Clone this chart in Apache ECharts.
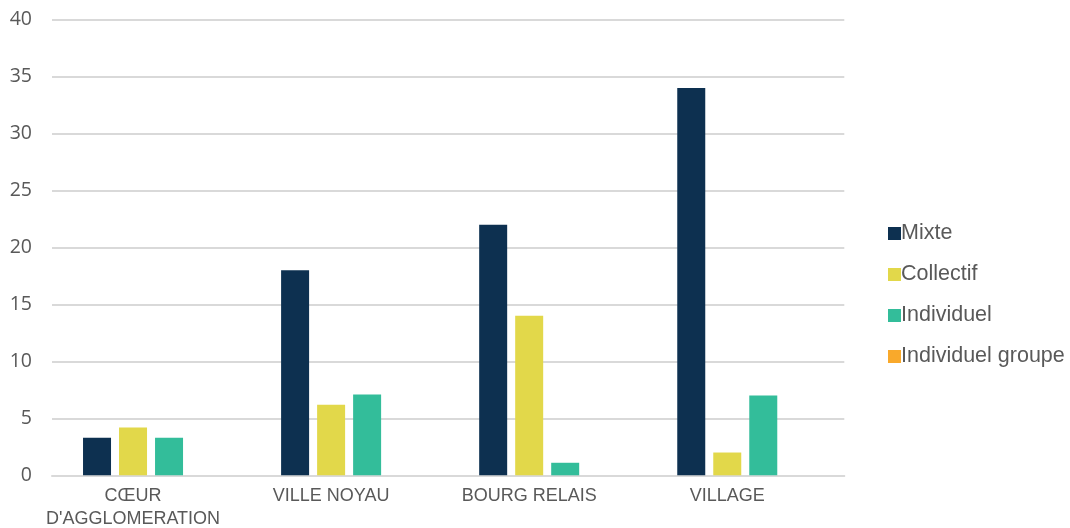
<!DOCTYPE html>
<html>
<head>
<meta charset="utf-8">
<script src="https://cdn.jsdelivr.net/npm/echarts@6/dist/echarts.min.js"></script>
<style>html,body{margin:0;padding:0;background:#fff}#c{width:1070px;height:528px}</style>
</head>
<body>
<div id="c"></div>
<script>
const categories = ["CŒUR\nD'AGGLOMERATION", "VILLE NOYAU", "BOURG RELAIS", "VILLAGE"];
const seriesNames = ["Mixte", "Collectif", "Individuel", "Individuel groupe"];
const mixte = [3.3, 18, 22, 34];
const collectif = [4.2, 6.2, 14, 2];
const individuel = [3.3, 7.1, 1.1, 7];
const individuelGroupe = [0, 0, 0, 0];
const yTicks = [0, 5, 10, 15, 20, 25, 30, 35, 40];

const colors = ["#0d3050", "#e2d84a", "#33bd9a", "#f9a92b"];
const values = [mixte, collectif, individuel, individuelGroupe];

const chart = echarts.init(document.getElementById('c'), null, {renderer: 'canvas'});
chart.setOption({
  animation: false,
  color: colors,
  grid: {left: 52, right: 225.7, top: 19.7, bottom: 52.7, containLabel: false, outerBoundsMode: 'none'},
  legend: {
    orient: 'vertical',
    left: 883, top: 216,
    itemWidth: 13, itemHeight: 13, itemGap: 16,
    icon: 'rect',
    textStyle: {fontFamily: 'Liberation Sans', fontSize: 21.5, color: '#595959', padding: [0,0,0,-5], lineHeight: 25},
    data: seriesNames
  },
  xAxis: {
    type: 'category',
    data: categories,
    axisTick: {show: false},
    axisLine: {lineStyle: {color: '#d9d9d9', width: 2}},
    axisLabel: {interval: 0, fontFamily: 'Liberation Sans', fontSize: 18, color: '#595959', margin: 9, lineHeight: 23, padding: [0, 36, 0, 0]}
  },
  yAxis: {
    type: 'value', min: yTicks[0], max: yTicks[yTicks.length-1], interval: 5,
    axisLine: {show: false}, axisTick: {show: false},
    splitLine: {lineStyle: {color: '#d9d9d9', width: 2}},
    axisLabel: {fontFamily: 'Open Sans', fontSize: 19.5, color: '#595959', margin: 20}
  },
  series: seriesNames.map((n, i) => ({
    name: n, type: 'bar', data: values[i], barWidth: 28, barGap: '28.6%'
  }))
});
</script>
</body>
</html>
